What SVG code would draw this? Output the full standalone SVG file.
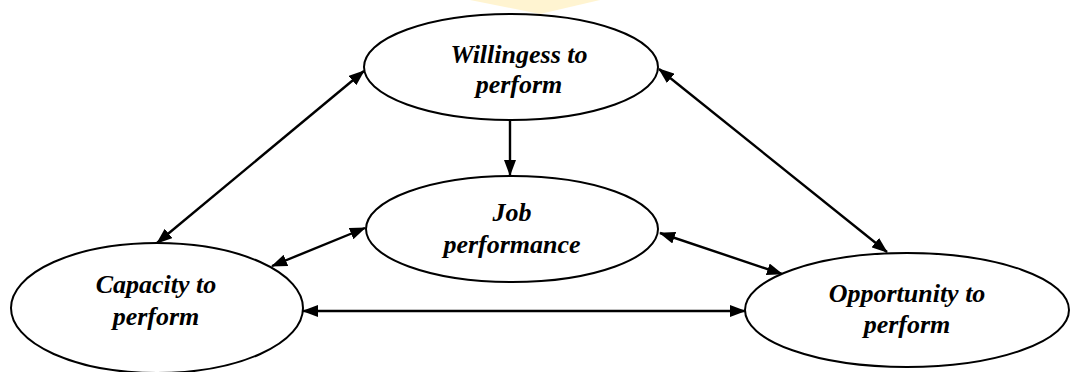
<svg xmlns="http://www.w3.org/2000/svg" width="1071" height="372" viewBox="0 0 1071 372">
<defs>
<style>
.node ellipse{fill:#fff;stroke:#000;stroke-width:2}
.node text{font-family:"Liberation Serif","Times New Roman",serif;font-size:26px;font-weight:bold;font-style:italic;text-anchor:middle;fill:#000}
#connectors line{stroke:#000;stroke-width:2.4;fill:none}
.bi{marker-start:url(#ah);marker-end:url(#ah)}
.uni{marker-end:url(#ah)}
</style>
<marker id="ah" viewBox="0 0 16 12" refX="15" refY="6" markerWidth="16" markerHeight="12" markerUnits="userSpaceOnUse" orient="auto-start-reverse">
<path d="M0,0 L16,6 L0,12 z" fill="#000"/>
</marker>
</defs>
<rect width="1071" height="372" fill="#fff"/>
<g id="watermark" opacity="0.35">
<path d="M470,0 L600,0 L540,14 Z" fill="#ffe07a"/>
</g>
<g id="connectors">
<line class="bi" x1="157" y1="243" x2="364" y2="71"/>
<line class="bi" x1="659" y1="69" x2="887" y2="252"/>
<line class="uni" x1="510" y1="120" x2="510" y2="175"/>
<line class="bi" x1="272" y1="266" x2="365" y2="228"/>
<line class="bi" x1="660" y1="233" x2="782" y2="274"/>
<line class="bi" x1="303" y1="311" x2="745" y2="311"/>
</g>
<g id="willingness" class="node">
<ellipse cx="511" cy="67" rx="147" ry="53"/>
<text x="519" y="63">Willingess to</text>
<text x="519" y="93">perform</text>
</g>
<g id="job" class="node">
<ellipse cx="512" cy="229" rx="146" ry="53"/>
<text x="512" y="221">Job</text>
<text x="512" y="253">performance</text>
</g>
<g id="capacity" class="node">
<ellipse cx="157" cy="308" rx="146" ry="65"/>
<text x="156" y="293">Capacity to</text>
<text x="156" y="325">perform</text>
</g>
<g id="opportunity" class="node">
<ellipse cx="907" cy="310" rx="162" ry="57"/>
<text x="907" y="302">Opportunity to</text>
<text x="907" y="333">perform</text>
</g>
</svg>
